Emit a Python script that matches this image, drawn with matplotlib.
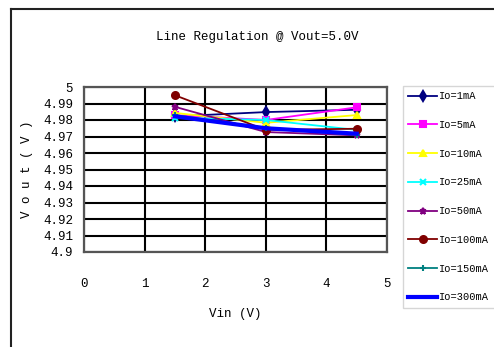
import matplotlib
matplotlib.use('Agg')
import matplotlib.pyplot as plt
from matplotlib.lines import Line2D

plt.rcParams['font.family'] = ['Liberation Mono', 'DejaVu Sans Mono']

vin = [1.5, 3.0, 4.5]
labels = ['Io=1mA', 'Io=5mA', 'Io=10mA', 'Io=25mA', 'Io=50mA',
          'Io=100mA', 'Io=150mA', 'Io=300mA']
vout = [
    [4.9822, 4.9848, 4.9862],   # 1mA
    [4.9830, 4.9800, 4.9877],   # 5mA
    [4.9843, 4.9783, 4.9830],   # 10mA
    [4.9814, 4.9800, 4.9740],   # 25mA
    [4.9880, 4.9727, 4.9707],   # 50mA
    [4.9950, 4.9740, 4.9747],   # 100mA
    [4.9830, 4.9750, 4.9710],   # 150mA
    [4.9822, 4.9750, 4.9717],   # 300mA
]
colors = ['#000080', '#ff00ff', '#ffff00', '#00ffff', '#800080',
          '#800000', '#008080', '#0000ff']
markers = ['d', 's', '^', 'x', '*', 'o', '+', None]
widths = [1.3, 1.3, 1.3, 1.3, 1.3, 1.3, 1.3, 3.0]
yticks = [4.9, 4.91, 4.92, 4.93, 4.94, 4.95, 4.96, 4.97, 4.98, 4.99, 5.0]
yticklabels = ['4.9', '4.91', '4.92', '4.93', '4.94', '4.95', '4.96',
               '4.97', '4.98', '4.99', '5']
xticks = [0, 1, 2, 3, 4, 5]

fig = plt.figure(figsize=(4.94, 3.47), dpi=100)
ax = fig.add_axes([84/494, 1-252/347, 303/494, 165/347])

for y, lab, c, m, w in zip(vout, labels, colors, markers, widths):
    ax.plot(vin, y, color=c, marker=m, lw=w, ms=5, mew=1.5, label=lab)

ax.set_xlim(0, 5)
ax.set_ylim(4.9, 5.0)
ax.set_xticks(xticks)
ax.set_yticks(yticks)
ax.set_yticklabels(yticklabels)
ax.tick_params(length=0, labelsize=9)
ax.tick_params(axis='x', pad=19)
ax.tick_params(axis='y', pad=8)
ax.grid(True, color='black', lw=1.5)
for s in ax.spines.values():
    s.set_color('#555555')
    s.set_linewidth(1.6)

ax.set_xlabel('Vin (V)', fontsize=9, labelpad=13)
ax.set_ylabel('V o u t ( V )', fontsize=9, labelpad=7)
fig.text(0.52, 1-37/347, 'Line Regulation @ Vout=5.0V', fontsize=9,
         ha='center', va='center')

leg = fig.legend(loc='upper left', bbox_to_anchor=(403/494, 1-86/347),
                 fontsize=7.5, frameon=True, fancybox=False, handlelength=2.8,
                 handletextpad=0.2, labelspacing=1.8, borderpad=0.5,
                 borderaxespad=0)
leg.get_frame().set_edgecolor('#cccccc')
leg.get_frame().set_linewidth(1.0)

# outer chart frame (left and top edges)
fig.add_artist(Line2D([11/494, 11/494], [0, 1-9/347], color='#222222', lw=1.5))
fig.add_artist(Line2D([11/494, 1], [1-9/347, 1-9/347], color='#222222', lw=1.5))

fig.savefig('out.png', dpi=100)
